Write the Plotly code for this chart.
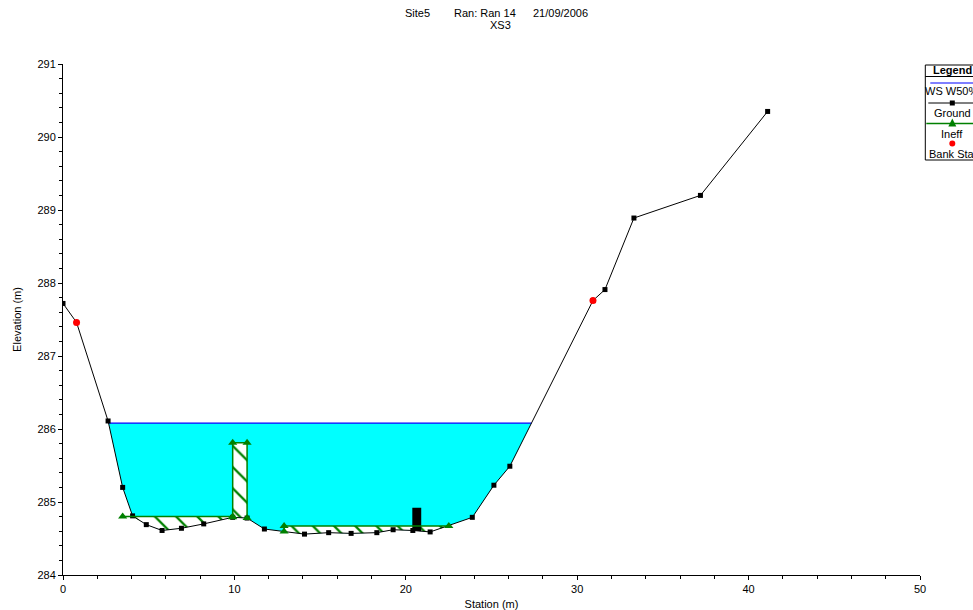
import numpy as np
import plotly.graph_objects as go

# ---------------- data ----------------
ground_x = [0.0, 0.79, 2.63, 3.48, 4.06, 4.86, 5.78, 6.91, 8.21, 9.90, 10.74, 11.75,
            14.09, 15.50, 16.81, 18.31, 19.26, 20.41, 21.42, 23.88, 25.14, 26.07,
            30.92, 31.62, 33.31, 37.19, 41.11]
ground_y = [287.72, 287.46, 286.11, 285.20, 284.81, 284.69, 284.61, 284.64, 284.70, 284.79,
            284.78, 284.63, 284.56, 284.58, 284.57, 284.58, 284.62, 284.61, 284.59, 284.79,
            285.23, 285.49, 287.76, 287.91, 288.89, 289.20, 290.35]

ws_elev = 286.08                       # water surface W50%

bank_x = [0.79, 30.92]
bank_y = [287.46, 287.76]

# ineffective flow areas: (left station, right station, elevation)
ineff_left = [3.48, 9.90, 12.90]
ineff_right = [9.90, 10.74, 22.51]
ineff_elev = [284.80, 285.81, 284.67]

# obstruction block
obst_left, obst_right, obst_top = 20.38, 20.90, 284.92

x_ticks = [0, 10, 20, 30, 40, 50]
y_ticks = [284, 285, 286, 287, 288, 289, 290, 291]

FONT = "Arial, Liberation Sans, sans-serif"
GREEN = "#008000"

gx = np.array(ground_x)
gy = np.array(ground_y)


def ws_limits(elev):
    """stations where the water surface meets the ground (left/right)."""
    lo = None
    hi = None
    for i in range(len(gx) - 1):
        y0, y1 = gy[i], gy[i + 1]
        if lo is None and y0 >= elev > y1:
            lo = gx[i] + (y0 - elev) / (y0 - y1) * (gx[i + 1] - gx[i])
        if y0 <= elev < y1:
            hi = gx[i] + (elev - y0) / (y1 - y0) * (gx[i + 1] - gx[i])
    return lo, hi


def area_poly(x0, x1, elev):
    inner = [x for x in ground_x if x0 < x < x1]
    xs = [x0] + inner + [x1]
    ys = [min(float(np.interp(x, gx, gy)), elev) for x in xs]
    px_ = [x0, x1] + xs[::-1] + [x0]
    py_ = [elev, elev] + ys[::-1] + [elev]
    return px_, py_


fig = go.Figure()

# water area
wl, wr = ws_limits(ws_elev)
cx, cy = area_poly(wl, wr, ws_elev)
fig.add_trace(go.Scatter(x=cx, y=cy, mode="lines", fill="toself",
                         fillcolor="#00FFFF", line=dict(width=0), hoverinfo="skip"))

# ineffective areas (hatched)
for a, b, e in zip(ineff_left, ineff_right, ineff_elev):
    hx, hy = area_poly(a, b, e)
    fig.add_trace(go.Scatter(
        x=hx, y=hy, mode="lines", fill="toself", line=dict(width=0),
        fillcolor="white",
        fillpattern=dict(shape="\\", fgcolor=GREEN, bgcolor="white",
                         size=15, solidity=0.15, fillmode="replace"),
        hoverinfo="skip"))

# obstruction
gb_l = float(np.interp(obst_left, gx, gy))
gb_r = float(np.interp(obst_right, gx, gy))
fig.add_trace(go.Scatter(x=[obst_left, obst_left, obst_right, obst_right, obst_left],
                         y=[gb_l, obst_top, obst_top, gb_r, gb_l],
                         mode="lines", fill="toself", fillcolor="black",
                         line=dict(width=0, color="black"), hoverinfo="skip"))

# water surface line
fig.add_trace(go.Scatter(x=[wl, wr], y=[ws_elev, ws_elev], mode="lines",
                         line=dict(color="#0000FF", width=1.2), name="WS W50%"))

# ground
fig.add_trace(go.Scatter(x=ground_x, y=ground_y, mode="lines+markers",
                         line=dict(color="black", width=1),
                         marker=dict(symbol="square", size=5, color="black"),
                         name="Ground"))

# ineffective lines + triangles
ix, iy = [], []
for a, b, e in zip(ineff_left, ineff_right, ineff_elev):
    ga = min(float(np.interp(a, gx, gy)), e)
    gb = min(float(np.interp(b, gx, gy)), e)
    seg_x, seg_y = [], []
    if e - ga > 0.05:
        seg_x.append(a); seg_y.append(ga)
    seg_x += [a, b]; seg_y += [e, e]
    if e - gb > 0.05:
        seg_x.append(b); seg_y.append(gb)
    ix += seg_x + [None]
    iy += seg_y + [None]
fig.add_trace(go.Scatter(x=ix, y=iy, mode="lines+markers",
                         line=dict(color=GREEN, width=1.5),
                         marker=dict(symbol="triangle-up", size=8, color=GREEN),
                         name="Ineff"))

# bank stations
fig.add_trace(go.Scatter(x=bank_x, y=bank_y, mode="markers",
                         marker=dict(symbol="circle", size=7, color="#FF0000"),
                         name="Bank Sta"))

# ---------------- layout ----------------
L, R, T, B = 62.7, 919.7, 64.0, 575.0


def pxx(v):
    return (v - L) / (R - L)


def pyy(v):
    return (B - v) / (B - T)


shapes = []
annotations = []

# legend box
shapes.append(dict(type="rect", xref="paper", yref="paper",
                   x0=pxx(925), x1=pxx(985), y0=pyy(65), y1=pyy(160),
                   line=dict(color="black", width=1), fillcolor="white"))
shapes.append(dict(type="line", xref="paper", yref="paper",
                   x0=pxx(925), x1=pxx(985), y0=pyy(76.5), y1=pyy(76.5),
                   line=dict(color="black", width=1)))
annotations.append(dict(text="<b>Legend</b>", x=pxx(952), y=pyy(70.5), xref="paper",
                        yref="paper", showarrow=False, font=dict(size=11, family=FONT, color="black"),
                        xanchor="center", yanchor="middle"))
# WS
shapes.append(dict(type="line", xref="paper", yref="paper",
                   x0=pxx(930), x1=pxx(985), y0=pyy(83), y1=pyy(83),
                   line=dict(color="#0000FF", width=1.2)))
annotations.append(dict(text="WS W50%ile", x=pxx(923), y=pyy(91), xref="paper", yref="paper",
                        showarrow=False, font=dict(size=11, family=FONT, color="black"),
                        xanchor="left", yanchor="middle"))
# Ground
shapes.append(dict(type="line", xref="paper", yref="paper",
                   x0=pxx(928), x1=pxx(985), y0=pyy(103), y1=pyy(103),
                   line=dict(color="black", width=1)))
shapes.append(dict(type="rect", xref="paper", yref="paper",
                   x0=pxx(949.5), x1=pxx(954.5), y0=pyy(100.5), y1=pyy(105.5),
                   line=dict(width=0), fillcolor="black"))
annotations.append(dict(text="Ground", x=pxx(952), y=pyy(113), xref="paper", yref="paper",
                        showarrow=False, font=dict(size=11, family=FONT, color="black"),
                        xanchor="center", yanchor="middle"))
# Ineff
shapes.append(dict(type="line", xref="paper", yref="paper",
                   x0=pxx(926), x1=pxx(985), y0=pyy(123.5), y1=pyy(123.5),
                   line=dict(color=GREEN, width=1.5)))
tri = "M {},{} L {},{} L {},{} Z".format(pxx(948), pyy(126.5), pxx(956), pyy(126.5),
                                          pxx(952), pyy(118.5))
shapes.append(dict(type="path", xref="paper", yref="paper", path=tri,
                   line=dict(width=0), fillcolor=GREEN))
annotations.append(dict(text="Ineff", x=pxx(952), y=pyy(133.5), xref="paper", yref="paper",
                        showarrow=False, font=dict(size=11, family=FONT, color="black"),
                        xanchor="center", yanchor="middle"))
# Bank Sta
shapes.append(dict(type="circle", xref="paper", yref="paper",
                   x0=pxx(949), x1=pxx(955), y0=pyy(140.5), y1=pyy(146.5),
                   line=dict(width=0), fillcolor="#FF0000"))
annotations.append(dict(text="Bank Sta", x=pxx(952), y=pyy(154), xref="paper", yref="paper",
                        showarrow=False, font=dict(size=11, family=FONT, color="black"),
                        xanchor="center", yanchor="middle"))

# titles
for txt, xp in [("Site5", 403), ("Ran: Ran 14", 451.5), ("21/09/2006", 531)]:
    annotations.append(dict(text=txt, x=pxx(xp), y=pyy(13), xref="paper", yref="paper",
                            showarrow=False, font=dict(size=11, family=FONT, color="black"),
                            xanchor="left", yanchor="middle"))
annotations.append(dict(text="XS3", x=pxx(500), y=pyy(25), xref="paper", yref="paper",
                        showarrow=False, font=dict(size=11, family=FONT, color="black"),
                        xanchor="center", yanchor="middle"))

fig.update_layout(
    width=973, height=610,
    margin=dict(l=L, r=973 - R, t=T, b=610 - B, pad=0),
    plot_bgcolor="white", paper_bgcolor="white",
    showlegend=False,
    font=dict(family=FONT, size=11, color="black"),
    shapes=shapes, annotations=annotations,
    xaxis=dict(range=[0, 50], tickvals=x_ticks, ticktext=[str(v) for v in x_ticks],
               showgrid=False, zeroline=False, showline=True, linecolor="black", linewidth=1,
               ticks="outside", ticklen=4, tickcolor="black", tickwidth=1,
               minor=dict(dtick=2, ticks="outside", ticklen=3, tickcolor="black", showgrid=False),
               tickfont=dict(size=11, family=FONT),
               title=dict(text="Station (m)", font=dict(size=11, family=FONT), standoff=11),
               automargin=False),
    yaxis=dict(range=[284, 291], tickvals=y_ticks, ticktext=[str(v) for v in y_ticks],
               showgrid=False, zeroline=False, showline=True, linecolor="black", linewidth=1,
               ticks="outside", ticklen=4, tickcolor="black", tickwidth=1,
               minor=dict(dtick=0.2, ticks="outside", ticklen=3, tickcolor="black", showgrid=False),
               tickfont=dict(size=11, family=FONT),
               title=dict(text="Elevation (m)", font=dict(size=11, family=FONT), standoff=13),
               automargin=False),
)

fig.write_html("out.html", config={"displayModeBar": False},
               post_script="document.body.style.margin='0';document.body.style.overflow='hidden';")
